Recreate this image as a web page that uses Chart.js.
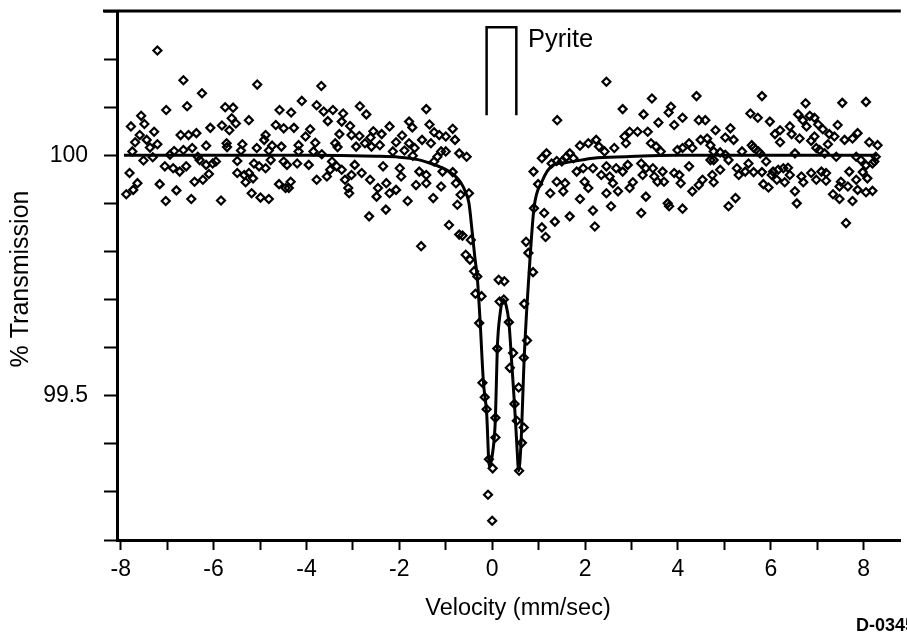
<!DOCTYPE html>
<html>
<head>
<meta charset="utf-8">
<script src="https://cdn.jsdelivr.net/npm/chart.js@4.4.1/dist/chart.umd.min.js"></script>
<style>
  html, body { margin: 0; padding: 0; background: #fff; }
  canvas { display: block; }
</style>
</head>
<body>
<canvas id="spectrum" width="907" height="633"></canvas>
<script>
// measured counts (velocity in mm/sec, % transmission)
const velocity = [
  -7.21, -6.65, -6.25, -5.06, -7.02, -6.57, -5.75, -5.58, -4.58, -7.56, -7.78, -7.49, -5.61, -5.52, -5.24,
  -7.28, -7.59, -7.69, -7.44, -6.71, -6.54, -6.37, -6.07, -5.82, -5.66, -4.66, -4.49, -4.88, -7.21, -7.37,
  -7.75, -6.85, -6.65, -6.46, -6.16, -5.72, -5.71, -5.38, -5.41, -5.07, -4.91, -4.74, -4.54, -4.81, -7.51,
  -7.31, -6.94, -7.05, -6.87, -6.73, -6.59, -6.34, -6.30, -6.16, -6.02, -5.95, -5.49, -5.13, -5.02, -4.88,
  -4.77, -4.49, -7.81, -6.10, -6.23, -6.41, -5.49, -5.34, -5.24, -5.31, -5.15, -7.16, -7.64, -7.73, -7.88,
  -6.80, -5.18, -7.03, -6.48, -5.84, -4.99, -4.81, -4.59, -4.45,
  -3.68, -4.10, -4.33, -3.78, -3.63, -3.43, -3.54, -3.21, -3.24, -3.06, -2.85, -2.71, -1.42, -1.79, -1.72,
  -1.35, -2.21, -4.27, -3.92, -4.02, -3.81, -4.17, -3.29, -3.38, -3.33, -3.03, -2.86, -2.56, -2.38, -2.62,
  -2.74, -2.93, -2.60, -2.42, -1.94, -2.07, -1.79, -1.67, -1.89, -1.71, -2.14, -1.51, -1.32, -1.14, -1.25,
  -1.00, -0.85, -0.80, -1.00, -1.18, -0.71, -4.17, -3.85, -3.67, -4.42, -4.20, -3.95, -3.45, -3.35, -3.49,
  -3.56, -3.24, -2.96, -3.03, -2.81, -3.17, -3.10, -3.08, -3.78, -4.34, -4.38, -2.63, -2.35, -2.28, -2.46,
  -2.49, -2.21, -2.07, -1.99, -1.96, -1.57, -1.42, -1.64, -1.42, -1.10, -1.82, -1.27, -2.29, -2.65, -1.07,
  -0.85, -0.78, -0.75, -0.93, -0.71, -1.53,
  -1.10, -0.55, -1.25, -0.68, -0.50, -0.64, -0.46, -0.57, -0.48, -0.39, -0.32, -0.36, -0.23, -0.28, -0.21,
  -0.16, -0.12, -0.07, 0.01, -0.09, 0.00, 0.07, 0.07, 0.11, 0.16, 0.25, 0.14, 0.26, 0.36, 0.45,
  0.38, 0.48, 0.53, 0.58, 0.57, 0.68, 0.64, 0.68, 0.75, 0.69, 0.88, 0.78, 0.73, 0.90, 1.12,
  1.07, 1.15, 1.35, 0.89, 0.99, 1.17, 1.28, 1.25, 1.39, 1.53, 1.50,
  2.46, 1.40, 2.81, 3.26, 3.44, 3.85, 3.80, 4.10, 3.58, 3.92, 4.40, 4.45, 4.59, 2.85, 2.96,
  3.13, 3.35, 2.88, 3.42, 3.53, 3.63, 3.99, 4.10, 4.24, 4.31, 4.49, 4.63, 4.70, 1.89, 2.07,
  2.24, 2.30, 2.42, 2.63, 1.07, 1.60, 1.67, 1.75, 1.39, 1.57, 1.82, 1.96, 2.17, 1.99, 2.07,
  1.89, 2.35, 2.46, 2.53, 2.60, 2.67, 2.81, 2.46, 2.71, 2.56, 2.92, 2.96, 3.03, 3.21, 3.31,
  3.24, 3.46, 3.49, 3.67, 3.70, 3.56, 3.92, 4.03, 4.24, 4.06, 4.31, 4.45, 4.53, 4.70, 4.74,
  3.31, 3.21, 3.78, 3.81, 4.10, 2.17, 2.21, 1.67,
  5.81, 6.75, 7.54, 8.05, 5.56, 5.72, 5.98, 6.59, 6.69, 6.84, 6.94, 6.77, 7.02, 7.12, 7.44,
  4.81, 5.13, 5.02, 5.20, 6.09, 6.20, 6.41, 6.45, 6.62, 6.94, 6.87, 7.26, 7.37, 7.59, 7.76,
  7.87, 8.12, 8.30, 6.20, 5.59, 5.63, 7.23, 6.98, 7.41, 7.84, 7.94, 8.26, 8.23, 8.19, 4.77,
  4.91, 5.02, 5.09, 5.38, 5.73, 5.90, 5.77, 6.52, 7.05, 7.16, 4.77, 4.77, 4.91, 5.27, 5.31,
  5.52, 5.45, 5.63, 5.81, 6.05, 6.16, 6.27, 6.37, 6.41, 6.02, 6.13, 6.30, 5.84, 5.95, 6.66,
  6.87, 6.70, 6.98, 7.09, 7.19, 7.19, 7.51, 7.69, 7.66, 7.84, 7.98, 8.05, 8.08, 7.87, 8.05,
  8.19, 7.48, 5.09, 5.24, 6.52, 6.56, 7.34, 7.48, 7.76, 7.62
];
const transmission = [
  100.218, 100.156, 100.129, 100.147, 100.094, 100.102, 100.100, 100.099, 100.094, 100.082, 100.060, 100.065, 100.077, 100.066, 100.073,
  100.049, 100.042, 100.027, 100.032, 100.042, 100.042, 100.046, 100.057, 100.062, 100.052, 100.063, 100.056, 100.042, 100.023, 100.016,
  100.008, 100.009, 100.011, 100.015, 100.020, 100.025, 100.017, 100.023, 100.010, 100.015, 100.032, 100.020, 100.018, 100.010, 99.989,
  99.996, 100.001, 99.977, 99.973, 99.966, 99.977, 99.997, 99.990, 99.980, 99.983, 99.987, 99.988, 99.983, 99.977, 99.973,
  99.990, 99.987, 99.963, 99.961, 99.949, 99.945, 99.963, 99.959, 99.963, 99.944, 99.952, 99.940, 99.942, 99.928, 99.919,
  99.927, 99.921, 99.905, 99.909, 99.906, 99.912, 99.909, 99.940, 99.932,
  100.144, 100.113, 100.089, 100.104, 100.091, 100.094, 100.071, 100.087, 100.070, 100.061, 100.102, 100.085, 100.096, 100.070, 100.058,
  100.064, 100.060, 100.057, 100.054, 100.039, 100.026, 100.021, 100.044, 100.025, 100.017, 100.042, 100.040, 100.050, 100.044, 100.037,
  100.025, 100.018, 100.018, 100.021, 100.041, 100.027, 100.025, 100.015, 100.010, 99.999, 100.008, 100.032, 100.025, 100.042, 100.048,
  100.039, 100.055, 100.032, 100.008, 99.997, 100.004, 100.008, 100.008, 100.002, 99.980, 99.983, 99.980, 99.987, 99.977, 99.970,
  99.956, 99.970, 99.980, 99.959, 99.963, 99.949, 99.932, 99.921, 99.949, 99.945, 99.932, 99.949, 99.977, 99.942, 99.932,
  99.914, 99.921, 99.928, 99.973, 99.956, 99.966, 99.959, 99.938, 99.942, 99.935, 99.905, 99.911, 99.887, 99.873, 99.966,
  99.965, 99.942, 99.897, 99.855, 99.835, 99.811,
  100.008, 99.997, 99.987, 99.918, 99.921, 99.833, 99.824, 99.793, 99.783, 99.759, 99.748, 99.712, 99.707, 99.651, 99.527,
  99.497, 99.472, 99.368, 99.349, 99.294, 99.240, 99.454, 99.413, 99.598, 99.696, 99.700, 99.741, 99.738, 99.653, 99.589,
  99.558, 99.483, 99.448, 99.344, 99.517, 99.434, 99.402, 99.579, 99.615, 99.691, 99.757, 99.797, 99.820, 99.890, 99.880,
  99.850, 99.830, 99.862, 99.966, 99.940, 100.004, 99.983, 99.921, 99.945, 99.925, 99.987,
  100.153, 100.073, 100.096, 100.085, 100.118, 100.101, 100.089, 100.078, 100.068, 100.063, 100.123, 100.073, 100.073, 100.039, 100.049,
  100.049, 100.049, 100.025, 100.025, 100.018, 100.008, 100.011, 100.015, 100.025, 100.015, 100.032, 100.035, 100.021, 100.020, 100.025,
  100.032, 100.018, 100.008, 100.015, 99.994, 99.997, 100.004, 99.994, 99.988, 99.942, 99.966, 99.973, 99.973, 99.945, 99.932,
  99.909, 99.959, 99.977, 99.956, 99.942, 99.973, 99.966, 99.921, 99.925, 99.894, 99.980, 99.932, 99.944, 99.983, 99.973,
  99.959, 99.973, 99.956, 99.966, 99.945, 99.945, 99.963, 99.959, 99.977, 99.942, 99.925, 99.938, 99.949, 99.990, 99.959,
  99.914, 99.880, 99.900, 99.894, 99.889, 99.885, 99.852, 99.873,
  100.123, 100.108, 100.109, 100.111, 100.087, 100.078, 100.070, 100.085, 100.073, 100.082, 100.078, 100.060, 100.064, 100.054, 100.063,
  100.052, 100.056, 100.037, 100.032, 100.044, 100.052, 100.060, 100.044, 100.035, 100.039, 100.030, 100.044, 100.039, 100.032, 100.035,
  100.046, 100.027, 100.021, 100.027, 100.021, 100.016, 100.023, 100.015, 99.997, 99.997, 99.990, 99.997, 99.987, 99.983, 100.008,
  100.006, 100.001, 99.990, 100.008, 100.008, 99.987, 100.004, 100.004, 100.011, 100.004, 99.990, 99.944, 99.970, 99.973, 99.959,
  99.983, 99.966, 99.965, 99.965, 99.966, 99.970, 99.973, 99.974, 99.959, 99.959, 99.949, 99.944, 99.940, 99.933, 99.956,
  99.963, 99.944, 99.949, 99.966, 99.963, 99.947, 99.945, 99.966, 99.935, 99.949, 99.965, 99.979, 99.952, 99.928, 99.923,
  99.926, 99.935, 99.894, 99.911, 99.925, 99.900, 99.919, 99.909, 99.905, 99.859
];

// fitted curve
const fitVelocity = [-7.93, -4.0, -2.5, -2.0, -1.6, -1.35, -1.1, -0.95, -0.8, -0.68, -0.58, -0.5, -0.43, -0.37, -0.32,
  -0.26, -0.19, -0.12, -0.06, 0.0, 0.07, 0.11, 0.17, 0.24, 0.30, 0.36, 0.42, 0.48, 0.53, 0.57,
  0.62, 0.69, 0.75, 0.82, 0.90, 1.07, 1.32, 1.6, 2.17, 2.88, 4.0, 8.29];
const fitTransmission = [100.0, 100.0, 99.998, 99.996, 99.991, 99.984, 99.975, 99.968, 99.957, 99.944, 99.925, 99.900, 99.840, 99.785, 99.745,
  99.655, 99.530, 99.465, 99.352, 99.375, 99.454, 99.598, 99.670, 99.700, 99.688, 99.653, 99.570, 99.483, 99.400, 99.344,
  99.400, 99.579, 99.689, 99.793, 99.890, 99.945, 99.980, 99.985, 99.994, 99.997, 100.0, 100.0];

// pyrite line positions bracket
const pyriteVelocity = [-0.12, -0.12, 0.52, 0.52];
const pyriteTransmission = [100.083, 100.266, 100.266, 100.083];

const xTicks = [-8, -7, -6, -5, -4, -3, -2, -1, 0, 1, 2, 3, 4, 5, 6, 7, 8];
const xLabels = ["-8", "", "-6", "", "-4", "", "-2", "", "0", "", "2", "", "4", "", "6", "", "8"];
const yTicks = [99.2, 99.3, 99.4, 99.5, 99.6, 99.7, 99.8, 99.9, 100.0, 100.1, 100.2, 100.3];
const yLabels = ["", "", "", "99.5", "", "", "", "", "100", "", "", ""];

const FONT = "'Liberation Sans', Arial, Helvetica, sans-serif";

const points = velocity.map((v, i) => ({ x: v, y: transmission[i] }));
const fit = fitVelocity.map((v, i) => ({ x: v, y: fitTransmission[i] }));
const pyrite = pyriteVelocity.map((v, i) => ({ x: v, y: pyriteTransmission[i] }));

const textPlugin = {
  id: "texts",
  afterDraw(chart) {
    const ctx = chart.ctx;
    const area = chart.chartArea;
    ctx.save();
    // top frame line
    ctx.strokeStyle = "#000";
    ctx.lineWidth = 3;
    ctx.beginPath();
    ctx.moveTo(area.left - 14, area.top);
    ctx.lineTo(area.right, area.top);
    ctx.stroke();

    ctx.fillStyle = "#000";
    ctx.font = "23.5px " + FONT;
    ctx.textAlign = "center";
    ctx.textBaseline = "middle";
    ctx.fillText("Velocity (mm/sec)", 518, 609);

    ctx.save();
    ctx.translate(21, 279);
    ctx.rotate(-Math.PI / 2);
    ctx.font = "25px " + FONT;
    ctx.fillText("% Transmission", 0, 0);
    ctx.restore();

    ctx.textAlign = "left";
    ctx.textBaseline = "alphabetic";
    ctx.font = "25.5px " + FONT;
    ctx.fillText("Pyrite", 528, 47);

    ctx.font = "bold 18px " + FONT;
    ctx.fillText("D-0345", 856, 631);
    ctx.restore();
  }
};

new Chart(document.getElementById("spectrum").getContext("2d"), {
  type: "scatter",
  data: {
    datasets: [
      {
        label: "Data",
        data: points,
        showLine: false,
        pointStyle: "rectRot",
        pointRadius: 4,
        pointBorderWidth: 2.2,
        borderColor: "#000",
        backgroundColor: "rgba(0,0,0,0)",
      },
      {
        label: "Fit",
        data: fit,
        showLine: true,
        pointRadius: 0,
        borderColor: "#000",
        borderWidth: 3,
        cubicInterpolationMode: "monotone",
      },
      {
        label: "Pyrite",
        data: pyrite,
        showLine: true,
        pointRadius: 0,
        borderColor: "#000",
        borderWidth: 2.5,
        tension: 0,
      },
    ],
  },
  options: {
    responsive: false,
    animation: false,
    devicePixelRatio: 1,
    layout: { padding: { top: 11, left: 0, right: 0, bottom: 0 } },
    plugins: { legend: { display: false }, tooltip: { enabled: false } },
    scales: {
      x: {
        type: "linear",
        min: -8.08,
        max: 8.8,
        afterBuildTicks: (s) => { s.ticks = xTicks.map((v) => ({ value: v })); },
        afterFit: (s) => { s.height = 93; s.paddingLeft = 0; s.paddingRight = 0; },
        ticks: {
          autoSkip: false,
          maxRotation: 0,
          padding: 6,
          color: "#000",
          font: { family: FONT, size: 23 },
          callback: (v, i) => xLabels[i],
        },
        grid: { drawOnChartArea: false, drawTicks: true, tickLength: 10, tickColor: "#000", tickWidth: 2 },
        border: { display: true, color: "#000", width: 3 },
      },
      y: {
        type: "linear",
        min: 99.2,
        max: 100.3,
        afterBuildTicks: (s) => { s.ticks = yTicks.map((v) => ({ value: v })); },
        afterFit: (s) => { s.width = 117; s.paddingTop = 0; s.paddingBottom = 0; },
        ticks: {
          autoSkip: false,
          padding: 16,
          color: "#000",
          font: { family: FONT, size: 23 },
          callback: (v, i) => yLabels[i],
        },
        grid: { drawOnChartArea: false, drawTicks: true, tickLength: 13, tickColor: "#000", tickWidth: 2 },
        border: { display: true, color: "#000", width: 3 },
      },
    },
  },
  plugins: [textPlugin],
});
</script>
</body>
</html>
